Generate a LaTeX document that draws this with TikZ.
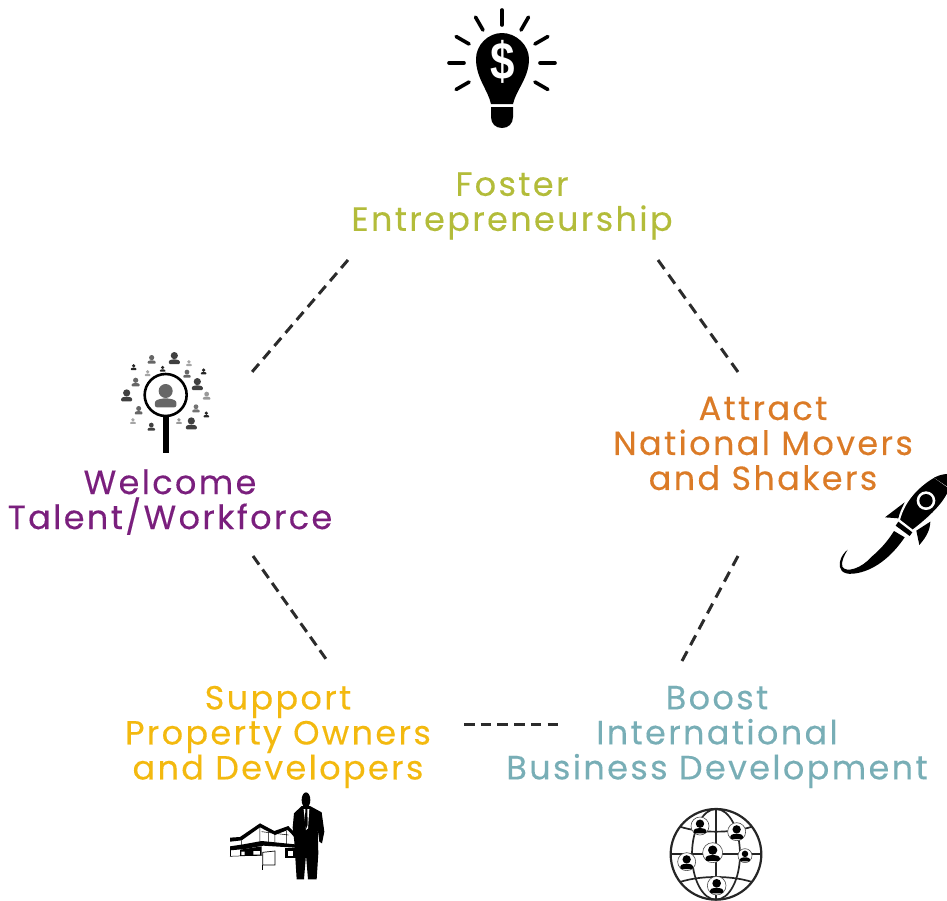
\documentclass[tikz,border=0pt]{standalone}
\usepackage{fontspec}
\setmainfont{Poppins}[LetterSpace=7,FakeBold=0.25]
\newfontfamily\dollarfont{Liberation Sans}[Scale=1]
\definecolor{cgreen}{HTML}{B3BC3A}
\definecolor{corange}{HTML}{DB7B27}
\definecolor{cpurple}{HTML}{7A1F7D}
\definecolor{cyellow}{HTML}{F3B90F}
\definecolor{cteal}{HTML}{78AEB6}
\definecolor{ink}{HTML}{2B2B2B}
\tikzset{
  label/.style={align=center,font=\fontsize{33.5}{35}\selectfont,inner sep=0pt},
  link/.style 2 args={draw=ink,line width=3pt,dash pattern=on #1pt off #2pt},
  ray/.style={line width=3.6pt,line cap=round,black},
  globeline/.style={draw=black!85,line width=1.7pt}
}
% person: centre x, top y, height, colour (in current units)
\newcommand{\persona}[4]{%
  \fill[#4] (#1,#2+.30*#3) circle[radius=.30*#3];
  \fill[#4,rounded corners=.03pt*#3] (#1-.46*#3,#2+#3) -- (#1-.46*#3,#2+.72*#3) -- (#1-.18*#3,#2+.62*#3) -- (#1+.18*#3,#2+.62*#3) -- (#1+.46*#3,#2+.72*#3) -- (#1+.46*#3,#2+#3) -- cycle;
}
\newcommand{\globeperson}[3]{%
  \filldraw[fill=white,draw=black!70,line width=.6pt] (#1,#2) circle[radius=#3];
  \persona{#1}{#2-.72*#3}{1.55*#3}{black}
}
\begin{document}
\begin{tikzpicture}[x=1pt,y=-1pt]
\useasboundingbox (0,0) rectangle (947,900);
% labels
\node[label,text=cgreen] (foster) at (512,206) {Foster\\Entrepreneurship};
\node[label,text=corange] (attract) at (763,443.5) {Attract\\National Movers\\and Shakers};
\node[label,text=cpurple] (welcome) at (170,502) {Welcome\\Talent/Workforce};
\node[label,text=cyellow] (support) at (278,737) {Support\\Property Owners\\and Developers};
\node[label,text=cteal] (boost) at (717,737) {Boost\\International\\Business Development};
% connectors
\coordinate (fw) at (348,260); \coordinate (wf) at (252,372);
\coordinate (fa) at (658,260); \coordinate (af) at (738,372);
\coordinate (ws) at (253,556); \coordinate (sw) at (326,659);
\coordinate (ab) at (738,556); \coordinate (ba) at (682,661);
\coordinate (sb) at (464,724); \coordinate (bs) at (558,724);
\draw[link={10.5}{6.6}] (fw) -- (wf);
\draw[link={11}{7.1}] (fa) -- (af);
\draw[link={10.5}{6}] (ws) -- (sw);
\draw[link={11}{7}] (ab) -- (ba);
\draw[link={10.5}{6.2}] (sb) -- (bs);
% bulb
\begin{scope}[shift={(502,63)}]
  \foreach \a in {-90,-60,-120,-30,-150,0,180,30,150}
    \draw[ray] (\a:38) -- (\a:53);
\end{scope}
\fill[black] (491,104) .. controls (488,90) and (476,78) .. (476,59) .. controls (476,45) and (488,33) .. (502,33) .. controls (516,33) and (529,45) .. (529,59) .. controls (529,78) and (516,90) .. (513,104) -- cycle;
\fill[black] (491,107) -- (513,107) -- (513,117) .. controls (513,124) and (508,128) .. (502,128) .. controls (496,128) and (491,124) .. (491,117) -- cycle;
\node[text=white,inner sep=0pt,font=\dollarfont\fontsize{44}{44}\selectfont\bfseries] (dollar) at (503,62) {\scalebox{1}[1.2]{\$}};
% magnifier and people
\begin{scope}[shift={(110,340)},x=.3333pt,y=-.3333pt]
  \persona{193}{36}{36}{black!75}
  \persona{50}{148}{36}{black!75}
  \persona{262}{114}{36}{black!75}
  \persona{244}{232}{36}{black!75}
  \persona{125}{45}{26}{black!60}
  \persona{77}{113}{26}{black!60}
  \persona{231}{89}{24}{black!60}
  \persona{86}{198}{25}{black!60}
  \persona{258}{193}{24}{black!55}
  \persona{237}{60}{18}{black!35}
  \persona{113}{90}{18}{black!35}
  \persona{290}{155}{24}{black!40}
  \persona{69}{234}{18}{black!35}
  \persona{207}{234}{18}{black!40}
  \persona{71}{72}{18}{black!85}
  \persona{158}{77}{18}{black!85}
  \persona{281}{85}{18}{black!85}
  \persona{289}{214}{18}{black!85}
  \persona{124}{248}{24}{black!75}
  \fill[white] (167,165) circle[radius=63];
  \persona{167}{132}{70}{black!60}
  \draw[black,line width=2.6pt] (167,165) circle[radius=63];
  \fill[black] (159,228) rectangle (177,340);
\end{scope}
% rocket
\begin{scope}[shift={(830,465)},x=.3333pt,y=-.3333pt]
  \fill[black] (165,157) -- (224,112) .. controls (215,130) and (208,145) .. (205,160) -- cycle;
  \fill[black] (268,240) -- (259,197) -- (301,170) .. controls (300,195) and (290,215) .. (268,240) -- cycle;
  \filldraw[fill=black,draw=white,line width=1.2pt] (208,165) .. controls (222,110) and (262,65) .. (312,36) -- (360,70) .. controls (345,115) and (295,160) .. (248,196) -- cycle;
  \fill[black] (312,38) .. controls (330,28) and (355,24) .. (380,28) -- (380,75) -- (360,70) -- cycle;
  \fill[white] (288,107) circle[radius=28];
  \fill[black] (288,107) circle[radius=20];
  \fill[black] (205,170) -- (247,202) -- (239,213) -- (197,182) -- cycle;
  \fill[black] (192,198) -- (224,217) .. controls (185,275) and (130,320) .. (70,326) .. controls (35,330) and (25,310) .. (30,290) .. controls (33,275) and (42,263) .. (53,254) .. controls (42,272) and (33,290) .. (37,305) .. controls (48,325) and (95,310) .. (125,275) .. controls (155,250) and (175,225) .. (192,198) -- cycle;
\end{scope}
% man and building
\begin{scope}[shift={(220,785)},x=.3333pt,y=-.3333pt]
  % building roof and bands
  \fill[black] (30,158) -- (60,156) -- (120,115) -- (163,138) -- (205,123) -- (235,155) -- (230,163) -- (203,135) -- (165,150) -- (120,127) -- (65,166) -- (30,170) -- cycle;
  \fill[black] (30,184) -- (70,178) -- (125,168) -- (225,178) -- (225,188) -- (130,182) -- (75,192) -- (30,196) -- cycle;
  \draw[black,line width=.5pt] (30,214) -- (130,210);
  \draw[black,line width=.5pt] (65,166) -- (65,190) (120,127) -- (120,170) (145,142) -- (145,175) (165,150) -- (165,178) (200,138) -- (200,180) (125,140) -- (205,150);
  \fill[black] (30,196) rectangle (34,214);
  \fill[black] (60,194) -- (125,184) -- (125,212) -- (60,213) -- cycle;
  \fill[white] (64,200) rectangle (74,210) (100,198) rectangle (120,209);
  \fill[black] (195,188) rectangle (230,218);
  \fill[white] (203,198) rectangle (220,212);
  \filldraw[fill=white,draw=black,line width=.7pt] (128,202) -- (165,198) -- (165,240) -- (128,240) -- cycle;
  \draw[black,line width=.7pt] (128,240) -- (128,254);
  % man
  \fill[black] (258,45) ellipse[x radius=13,y radius=23];
  \fill[black] (245,63) -- (270,63) -- (305,82) -- (313,140) -- (306,175) -- (298,170) -- (293,130) -- (295,205) -- (290,283) -- (264,283) -- (258,210) -- (252,283) -- (230,283) -- (223,170) -- (218,128) -- (222,85) -- cycle;
  \fill[white] (251,72) -- (268,72) -- (264,130) -- (258,135) -- cycle;
  \fill[black] (256,72) -- (262,72) -- (263,120) -- (258,132) -- (255,120) -- cycle;
\end{scope}
% globe
\begin{scope}[shift={(660,800)},x=.3333pt,y=-.3333pt]
  \draw[globeline,line width=2.2pt] (168,163) circle[radius=136];
  \draw[globeline] (168,27) -- (168,299);
  \draw[globeline] (32,163) -- (304,163);
  \draw[globeline] (168,163) ellipse[x radius=72,y radius=136];
  \draw[globeline] (60,80) .. controls (120,100) and (216,100) .. (276,80);
  \draw[globeline] (60,246) .. controls (120,226) and (216,226) .. (276,246);
  \globeperson{120}{78}{27}
  \globeperson{230}{95}{27}
  \globeperson{158}{158}{30}
  \globeperson{80}{185}{27}
  \globeperson{255}{167}{21}
  \globeperson{170}{257}{28}
\end{scope}
\end{tikzpicture}
\end{document}
